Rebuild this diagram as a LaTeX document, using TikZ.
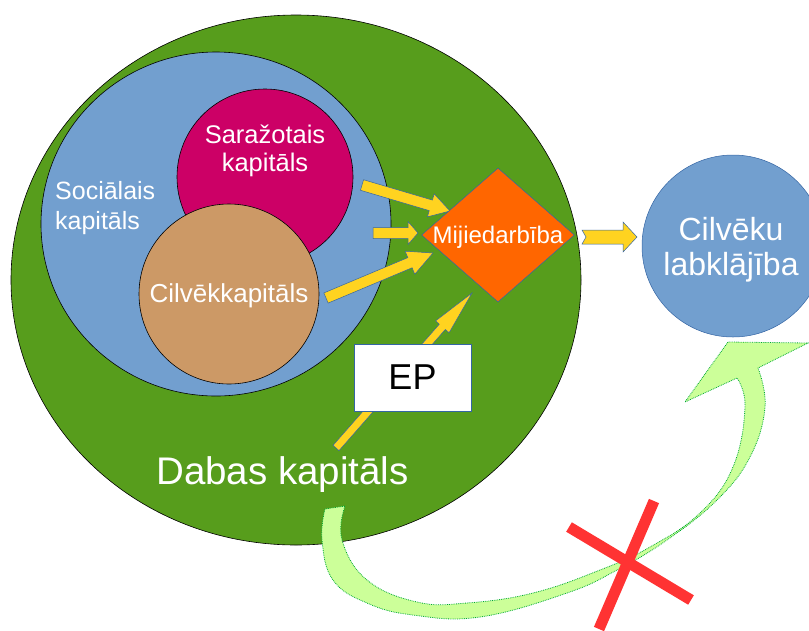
\documentclass[tikz,border=0pt]{standalone}
\usepackage{fontspec}
\setmainfont{Liberation Sans}
\usetikzlibrary{shapes.geometric,calc}

\definecolor{natgreen}{RGB}{87,157,28}
\definecolor{socblue}{RGB}{114,159,207}
\definecolor{prodmag}{RGB}{204,0,102}
\definecolor{humbrown}{RGB}{204,153,102}
\definecolor{interorange}{RGB}{255,102,0}
\definecolor{arrowgold}{RGB}{255,211,32}
\definecolor{edgeblue}{RGB}{52,101,164}
\definecolor{backgreen}{RGB}{204,255,153}
\definecolor{backedge}{RGB}{0,169,51}
\definecolor{crossred}{RGB}{255,51,51}

\tikzset{
  capital/.style={draw=black, line width=0.6pt, inner sep=0pt},
  lbl/.style={text=white, inner sep=0pt, align=center},
  yarrow/.style={fill=arrowgold, draw=edgeblue, line width=0.5pt},
  backarrow/.style={fill=backgreen, draw=backedge, densely dotted, line width=0.8pt},
  crossbar/.style={draw=crossred, line width=11pt},
}

% block arrow: from, to, shaft half-width, head half-width, head length, tail notch
\newcommand\blockarrow[6]{%
  \coordinate (bahead) at ($(#2)!#5!(#1)$);
  \filldraw[yarrow] ($(#1)!#3!90:(#2)$) -- ($(bahead)!#3!90:(#2)$) -- ($(bahead)!#4!90:(#2)$) -- (#2)
    -- ($(bahead)!#4!-90:(#2)$) -- ($(bahead)!#3!-90:(#2)$) -- ($(#1)!#3!-90:(#2)$) -- ($(#1)!#6!(#2)$) -- cycle;
}

\begin{document}
\begin{tikzpicture}[x=1pt, y=-1pt]
\clip (0,0) rectangle (809,630);

% capitals
\node[capital, ellipse, fill=natgreen, minimum width=570pt, minimum height=530pt] (nature) at (296,280) {};
\node[capital, ellipse, fill=socblue, minimum width=350pt, minimum height=344pt] (social) at (216,224) {};
\node[capital, circle, fill=prodmag, minimum size=176pt] (produced) at (265,177) {};
\node[capital, circle, fill=humbrown, minimum size=180pt] (human) at (229,294) {};

\node[lbl, align=left, anchor=west, font=\fontsize{25}{30}\selectfont] (sociallbl) at (55,208) {Sociālais\\kapitāls};
\node[lbl, font=\fontsize{25.5}{28}\selectfont] (producedlbl) at (265,151) {Saražotais\\kapitāls};
\node[lbl, font=\fontsize{26}{28}\selectfont] (humanlbl) at (229,296) {Cilvēkkapitāls};
\node[lbl, font=\fontsize{38.5}{42}\selectfont] (naturelbl) at (282.5,475) {Dabas kapitāls};

% flows into the interaction
\coordinate (fromprod) at (362,185);  \coordinate (toprod) at (450,211);
\coordinate (fromsoc) at (373,233);   \coordinate (tosoc) at (418,233);
\coordinate (fromhum) at (326,298);   \coordinate (tohum) at (433,253);
\coordinate (fromep) at (336,448);    \coordinate (toep) at (472,293);
\blockarrow{fromprod}{toprod}{5.5pt}{12pt}{20pt}{0pt}
\blockarrow{fromsoc}{tosoc}{5.5pt}{11.5pt}{10pt}{0pt}
\blockarrow{fromhum}{tohum}{5.5pt}{12.5pt}{25pt}{0pt}
\blockarrow{fromep}{toep}{4pt}{9pt}{45pt}{0pt}

\node[draw=edgeblue, fill=white, line width=0.6pt, minimum width=117pt, minimum height=67pt, inner sep=0pt,
  font=\fontsize{36}{40}\selectfont] (ep) at (412.5,377.5) {EP};

\node[diamond, fill=interorange, draw=edgeblue, line width=0.5pt, minimum width=153pt, minimum height=134pt,
  inner sep=0pt] (inter) at (498,235) {};
\node[lbl, font=\fontsize{24}{28}\selectfont] (interlbl) at (498,237) {Mijiedarbība};

% to well-being
\coordinate (fromint) at (582,237);   \coordinate (towell) at (637,237);
\blockarrow{fromint}{towell}{7pt}{15pt}{14pt}{4pt}

\node[circle, fill=socblue, draw=edgeblue, line width=0.5pt, minimum size=182pt, inner sep=0pt] (wellbeing) at (733,246) {};
\node[lbl, font=\fontsize{32}{35}\selectfont] (wellbeinglbl) at (731,249.5) {Cilvēku\\labklājība};

% direct path from nature to well-being
\filldraw[backarrow] plot[smooth, tension=0.7] coordinates {(325,509) (322,540) (333,580) (367,603) (413,615)
    (480,617) (567,593) (617,570) (667,540) (717,500) (750,457) (765,407) (758,368)}
  -- (808,343) -- (728,342) -- (685,402) -- (737,378)
  -- plot[smooth, tension=0.7] coordinates {(737,378) (745,407) (733,467) (700,513) (650,547) (600,570)
    (533,593) (467,603) (417,602) (367,580) (342,540) (345,506)} -- cycle;

% crossed out
\coordinate (crossa) at (569,527);  \coordinate (crossb) at (691,600);
\coordinate (crossc) at (654,501);  \coordinate (crossd) at (599,629);
\draw[crossbar] (crossa) -- (crossb);
\draw[crossbar] (crossc) -- (crossd);
\end{tikzpicture}
\end{document}
